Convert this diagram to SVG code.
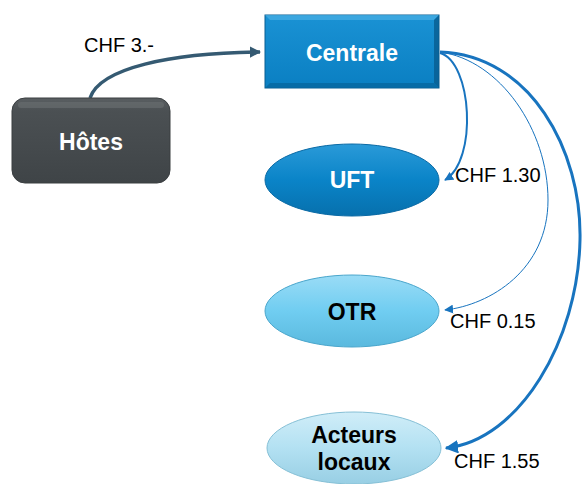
<svg xmlns="http://www.w3.org/2000/svg" width="584" height="484" viewBox="0 0 584 484">
<style>
.lbl{font-family:"Liberation Sans",Arial,sans-serif;font-size:20px;fill:#000}
.nt{font-family:"Liberation Sans",Arial,sans-serif;font-size:23px;font-weight:bold;text-anchor:middle}
.w{fill:#fff}
.k{fill:#000}
</style>
<defs>
<linearGradient id="gHot" x1="0" y1="0" x2="0" y2="1">
<stop offset="0" stop-color="#5a5f62"/><stop offset="0.15" stop-color="#4b5053"/><stop offset="1" stop-color="#3f4447"/>
</linearGradient>
<linearGradient id="gCen" x1="0" y1="0" x2="0" y2="1">
<stop offset="0" stop-color="#1a92d4"/><stop offset="1" stop-color="#0a7fc2"/>
</linearGradient>
<linearGradient id="gUft" x1="0" y1="0" x2="0" y2="1">
<stop offset="0" stop-color="#2a9ad8"/><stop offset="0.5" stop-color="#0a84c8"/><stop offset="1" stop-color="#0770ad"/>
</linearGradient>
<linearGradient id="gOtr" x1="0" y1="0" x2="0" y2="1">
<stop offset="0" stop-color="#9adcf6"/><stop offset="0.5" stop-color="#70cdf1"/><stop offset="1" stop-color="#5ab9de"/>
</linearGradient>
<linearGradient id="gAct" x1="0" y1="0" x2="0" y2="1">
<stop offset="0" stop-color="#d0edf8"/><stop offset="0.5" stop-color="#b3e1f2"/><stop offset="1" stop-color="#98cfe4"/>
</linearGradient>
<marker id="aDark" viewBox="0 0 10 10" refX="9" refY="5" markerWidth="3.2" markerHeight="3.2" orient="auto" markerUnits="strokeWidth">
<path d="M0,0 L10,5 L0,10 z" fill="#355a72"/>
</marker>
<marker id="aBlue" viewBox="0 0 10 10" refX="9" refY="5" markerWidth="4.5" markerHeight="4.5" orient="auto" markerUnits="strokeWidth">
<path d="M0,0 L10,5 L0,10 z" fill="#1874bf"/>
</marker>
<marker id="aThin" viewBox="0 0 10 10" refX="9" refY="5" markerWidth="9" markerHeight="9" orient="auto" markerUnits="strokeWidth">
<path d="M0,0 L10,5 L0,10 z" fill="#1874bf"/>
</marker>
</defs>
<g id="connectors" fill="none">
<path d="M90,98 C100,68 170,53 260,52" stroke="#355a72" stroke-width="3.5" marker-end="url(#aDark)"/>
<path d="M440,53 C472,62 478,160 445,180" stroke="#1874bf" stroke-width="2" marker-end="url(#aBlue)"/>
<path d="M440,52 C500,60 548,130 548,200 C548,270 490,305 445,310" stroke="#1874bf" stroke-width="1" marker-end="url(#aThin)"/>
<path d="M440,52 C530,55 582,150 580,240 C578,340 520,440 446,448" stroke="#1874bf" stroke-width="3" marker-end="url(#aBlue)"/>
</g>
<g id="lbl-hotes-centrale"><text class="lbl" x="84" y="52">CHF 3.-</text></g>
<g id="lbl-uft"><text class="lbl" x="455" y="182">CHF 1.30</text></g>
<g id="lbl-otr"><text class="lbl" x="450" y="328">CHF 0.15</text></g>
<g id="lbl-acteurs"><text class="lbl" x="454" y="468">CHF 1.55</text></g>
<g id="hotes">
<rect x="12" y="98" width="158" height="85" rx="13" fill="url(#gHot)" stroke="#3a3e41" stroke-width="1"/>
<rect x="18" y="102" width="146" height="6" rx="3" fill="#6a6f72" opacity="0.6"/>
<text class="nt w" x="91" y="150">Hôtes</text>
</g>
<g id="centrale">
<rect x="265" y="15" width="174" height="73" fill="url(#gCen)" stroke="#0b5f92" stroke-width="1"/>
<polygon points="265,15 439,15 434,20 270,20" fill="#4ab0e6" opacity="0.7"/>
<polygon points="439,15 439,88 434,83 434,20" fill="#075c90" opacity="0.8"/>
<polygon points="265,88 439,88 434,83 270,83" fill="#06669f" opacity="0.8"/>
<text class="nt w" x="352" y="61">Centrale</text>
</g>
<g id="uft">
<ellipse cx="352" cy="180" rx="87" ry="36" fill="url(#gUft)" stroke="#0a6aa5" stroke-width="1"/>
<text class="nt w" x="352" y="188">UFT</text>
</g>
<g id="otr">
<ellipse cx="352" cy="311" rx="87" ry="36" fill="url(#gOtr)" stroke="#4aa6cc" stroke-width="1"/>
<text class="nt k" x="352" y="320">OTR</text>
</g>
<g id="acteurs">
<ellipse cx="354" cy="448" rx="87" ry="36" fill="url(#gAct)" stroke="#86c0d6" stroke-width="1"/>
<text class="nt k" x="354" y="443">Acteurs</text>
<text class="nt k" x="354" y="470">locaux</text>
</g>
</svg>
